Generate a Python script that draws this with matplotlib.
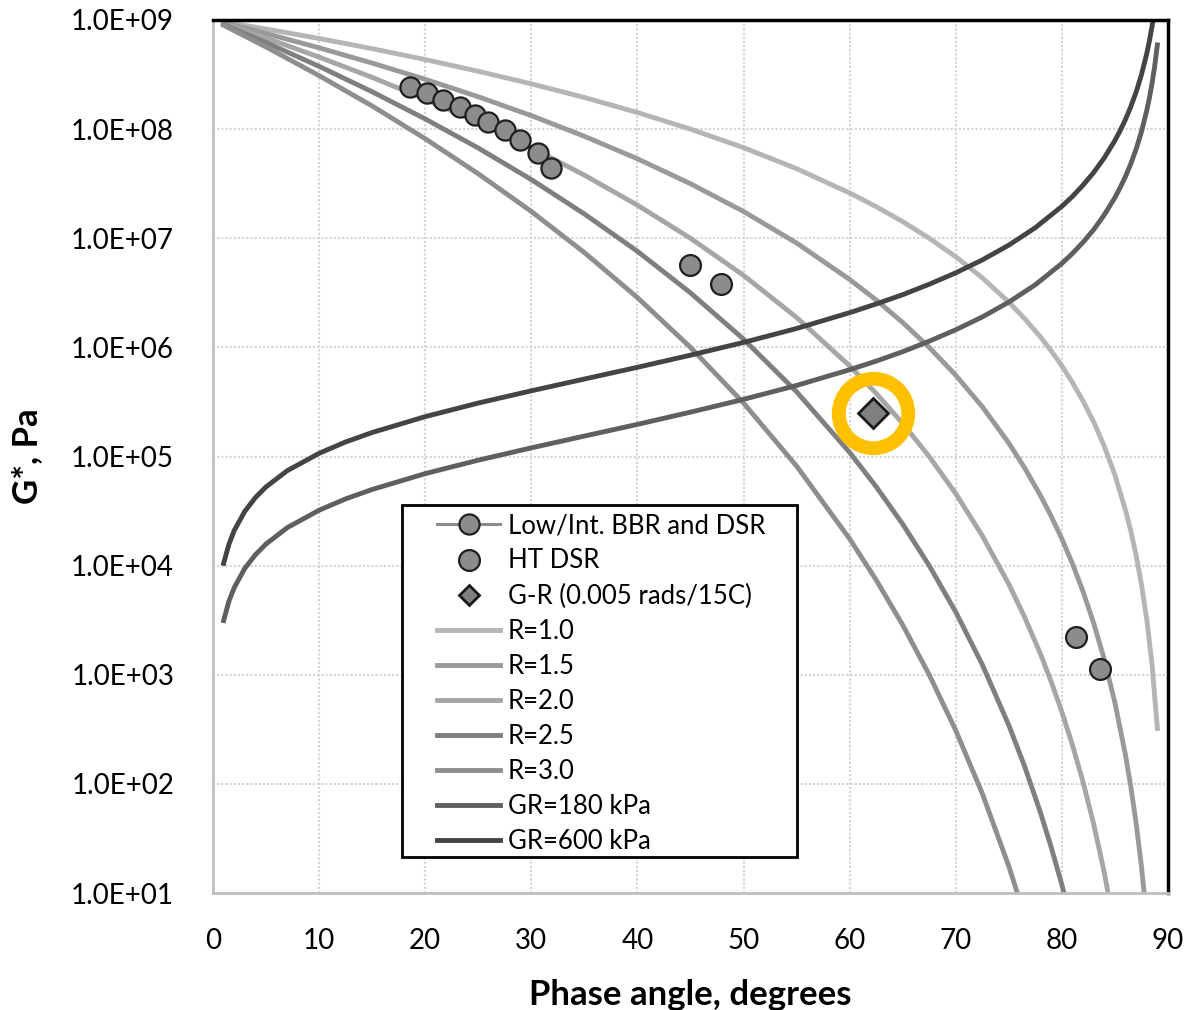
import numpy as np
import matplotlib
matplotlib.use("Agg")
import matplotlib.pyplot as plt
from matplotlib.patches import Rectangle

plt.rcParams['font.family'] = ['Lato', 'DejaVu Sans']

# Black space: phase angle (deg) vs G* (Pa)
phase_low = [18.55, 20.2, 21.7, 23.3, 24.7, 25.9, 27.5, 28.9, 30.6, 31.9]
g_low = [2.43e8, 2.14e8, 1.85e8, 1.60e8, 1.35e8, 1.16e8, 9.8e7, 7.94e7, 6.04e7, 4.40e7]

phase_ht = [45.0, 47.9, 81.3, 83.6]
g_ht = [5.7e6, 3.8e6, 2.2e3, 1.12e3]

phase_gr_pt = [62.2]
g_gr_pt = [2.5e5]

# R curves
phase_r = [1, 5, 10, 15, 20, 25, 30, 35, 40, 45, 50, 55, 60, 62.5, 65, 67.5, 70,
           72.5, 75, 76.5, 78, 79, 80, 81, 82, 83, 84, 85, 86, 86.5, 87, 87.5,
           88, 88.5, 89]
g_r10 = [9.63e8, 8.27e8, 6.77e8, 5.46e8, 4.34e8, 3.39e8, 2.60e8, 1.95e8, 1.42e8,
         1.00e8, 6.77e7, 4.34e7, 2.60e7, 1.95e7, 1.42e7, 1.00e7, 6.77e6, 4.34e6,
         2.60e6, 1.83e6, 1.24e6, 9.28e5, 6.77e5, 4.77e5, 3.22e5, 2.07e5, 1.24e5,
         6.77e4, 3.22e4, 2.07e4, 1.24e4, 6.77e3, 3.22e3, 1.24e3, 3.22e2]
g_r15 = [9.46e8, 7.52e8, 5.56e8, 4.03e8, 2.86e8, 1.98e8, 1.33e8, 8.60e7, 5.35e7,
         3.16e7, 1.76e7, 9.04e6, 4.19e6, 2.72e6, 1.69e6, 1.00e6, 5.56e5, 2.86e5,
         1.33e5, 7.84e4, 4.36e4, 2.83e4, 1.76e4, 1.04e4, 5.78e3, 2.97e3, 1.38e3,
         5.56e2, 1.83e2, 9.40e1, 4.36e1, 1.76e1, 5.78]
g_r20 = [9.29e8, 6.84e8, 4.57e8, 2.98e8, 1.88e8, 1.15e8, 6.77e7, 3.79e7, 2.01e7,
         1.00e7, 4.57e6, 1.88e6, 6.77e5, 3.79e5, 2.01e5, 1.00e5, 4.57e4, 1.88e4,
         6.77e3, 3.36e3, 1.54e3, 8.61e2, 4.57e2, 2.27e2, 1.04e2, 4.28e1, 1.54e1, 4.57]
g_r25 = [9.11e8, 6.22e8, 3.76e8, 2.20e8, 1.24e8, 6.71e7, 3.45e7, 1.67e7, 7.59e6,
         3.16e6, 1.19e6, 3.92e5, 1.09e5, 5.29e4, 2.40e4, 1.00e4, 3.76e3, 1.24e3,
         3.45e2, 1.44e2, 5.40e1, 2.62e1, 1.19e1, 4.96]
g_r30 = [8.95e8, 5.66e8, 3.09e8, 1.63e8, 8.17e7, 3.90e7, 1.76e7, 7.39e6, 2.86e6,
         1.00e6, 3.09e5, 8.17e4, 1.76e4, 7.39e3, 2.86e3, 1.00e3, 3.09e2, 8.17e1,
         1.76e1, 6.15]

# Glover-Rowe limits
phase_gr = [1, 1.5, 2, 3, 4, 5, 7, 10, 12.5, 15, 20, 25, 30, 35, 40, 45, 50, 55,
            60, 62.5, 65, 67.5, 70, 72.5, 75, 77.5, 80, 81, 82, 83, 84, 85, 85.5,
            86, 86.5, 87, 87.5, 88, 88.25, 88.5, 88.75, 89]
g_gr180 = [3.14e3, 4.72e3, 6.29e3, 9.45e3, 1.26e4, 1.58e4, 2.23e4, 3.22e4, 4.09e4,
           4.99e4, 6.97e4, 9.26e4, 1.20e5, 1.54e5, 1.97e5, 2.55e5, 3.34e5, 4.48e5,
           6.24e5, 7.49e5, 9.13e5, 1.14e6, 1.45e6, 1.90e6, 2.60e6, 3.75e6, 5.88e6,
           7.26e6, 9.20e6, 1.20e7, 1.64e7, 2.36e7, 2.92e7, 3.69e7, 4.82e7, 6.56e7,
           9.45e7, 1.48e8, 1.93e8, 2.63e8, 3.78e8, 5.91e8]
g_gr600 = [1.05e4, 1.57e4, 2.10e4, 3.15e4, 4.21e4, 5.27e4, 7.42e4, 1.07e5, 1.36e5,
           1.66e5, 2.32e5, 3.09e5, 4.00e5, 5.13e5, 6.57e5, 8.49e5, 1.11e6, 1.49e6,
           2.08e6, 2.50e6, 3.04e6, 3.79e6, 4.82e6, 6.33e6, 8.65e6, 1.25e7, 1.96e7,
           2.42e7, 3.07e7, 4.01e7, 5.46e7, 7.87e7, 9.72e7, 1.23e8, 1.61e8, 2.19e8,
           3.15e8, 4.92e8, 6.43e8, 8.75e8, 1.26e9, 1.97e9]

fig = plt.figure(figsize=(11.86, 10.10), dpi=100)
ax = fig.add_axes([0.1796, 0.1158, 0.8052, 0.8644])

lw = 3.5
ax.plot(phase_low, g_low, '-o', color='#8c8c8c', lw=2.2, ms=14.5, mfc='#8c8c8c',
        mec='#1f1f1f', mew=1.6, label='Low/Int. BBR and DSR', zorder=6)
ax.plot(phase_ht, g_ht, 'o', ms=15, mfc='#8c8c8c', mec='#1f1f1f', mew=1.6,
        label='HT DSR', zorder=6)
ax.plot(phase_gr_pt, g_gr_pt, 'D', ms=15, mfc='#808080', mec='#1a1a1a', mew=2,
        label='G-R (0.005 rads/15C)', zorder=7)
ax.plot(phase_r[:len(g_r10)], g_r10, color='#b5b5b5', lw=lw, label='R=1.0')
ax.plot(phase_r[:len(g_r15)], g_r15, color='#999999', lw=lw, label='R=1.5')
ax.plot(phase_r[:len(g_r20)], g_r20, color='#a6a6a6', lw=lw, label='R=2.0')
ax.plot(phase_r[:len(g_r25)], g_r25, color='#7f7f7f', lw=lw, label='R=2.5')
ax.plot(phase_r[:len(g_r30)], g_r30, color='#8e8e8e', lw=lw, label='R=3.0')
ax.plot(phase_gr, g_gr180, color='#5f5f5f', lw=lw, label='GR=180 kPa')
ax.plot(phase_gr, g_gr600, color='#444444', lw=lw, label='GR=600 kPa')

# highlight ring around the G-R point
ax.plot(phase_gr_pt, g_gr_pt, 'o', ms=50, mfc='none', mec='#FFC000', mew=10,
        zorder=8)

ax.set_yscale('log')
ax.set_xlim(0, 90)
ax.set_ylim(1e1, 1e9)
ax.set_xticks(range(0, 91, 10))
ax.set_yticks([10.0**k for k in range(1, 10)])
ax.set_yticklabels(['1.0E+%02d' % k for k in range(1, 10)])
ax.minorticks_off()
ax.tick_params(axis='both', length=0, labelsize=20)
ax.tick_params(axis='x', pad=25)
ax.tick_params(axis='y', pad=28)
ax.grid(True, color='#d4d4d4', lw=1.5, ls=(0, (1, 1)))
ax.set_axisbelow(True)

for s in ['left', 'bottom']:
    ax.spines[s].set_color('#bfbfbf')
    ax.spines[s].set_linewidth(2)
for s in ['top', 'right']:
    ax.spines[s].set_color('black')
    ax.spines[s].set_linewidth(2.5)

ax.set_xlabel('Phase angle, degrees', fontsize=25, fontweight='bold', labelpad=18)
ax.set_ylabel('G*, Pa', fontsize=25, fontweight='bold', labelpad=20)

# legend box drawn separately, entries placed inside it
ax.add_patch(Rectangle((0.1979, 0.0412), 0.4136, 0.4032, transform=ax.transAxes,
                       facecolor='white', edgecolor='black', lw=2, zorder=9))
leg = ax.legend(loc='lower left', bbox_to_anchor=(0.2346, 0.045), fontsize=18.5,
                frameon=False, handlelength=2.45, labelspacing=0.39,
                borderpad=0, handletextpad=0.3, borderaxespad=0)
leg.set_zorder(10)
leg.legend_handles[2].set_markersize(10)

fig.savefig('out.png', dpi=100, facecolor='white')
